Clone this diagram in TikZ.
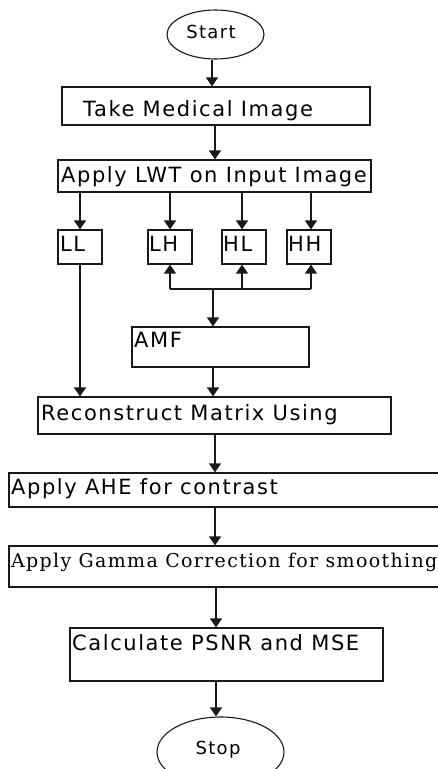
\documentclass[tikz,border=0pt]{standalone}
\usepackage{fontspec}
\usetikzlibrary{arrows.meta,shapes.geometric}
\newfontfamily\flowsans{DejaVu Sans}[LetterSpace=7.5]
\newfontfamily\flowserif{DejaVu Serif}[LetterSpace=7]
\definecolor{lineclr}{RGB}{25,25,25}
\tikzset{
  box/.style={draw=lineclr, line width=1.2pt, rectangle, inner sep=0pt},
  oval/.style={draw=lineclr, line width=1.1pt, ellipse, inner sep=0pt},
  txt/.style={inner sep=0pt, font=\flowsans\fontsize{21}{24}\selectfont, text=black},
  stxt/.style={inner sep=0pt, font=\flowserif\fontsize{19}{22}\selectfont, text=black},
  arr/.style={draw=lineclr, line width=1.4pt, -{Triangle[width=12pt,length=9pt]}},
  ln/.style={draw=lineclr, line width=1.4pt}
}
\begin{document}
\begin{tikzpicture}[x=1pt,y=-1pt]
\useasboundingbox (0,0) rectangle (437,769);
% shapes
\node[oval, minimum width=97pt, minimum height=49pt] (start) at (215.5,34.5) {};
\node[txt, anchor=base] (starttxt) at (211,38) {\fontsize{18}{20}\selectfont Start};
\node[box, minimum width=308pt, minimum height=38pt] (take) at (216,106) {};
\node[txt, anchor=base west] (taketxt) at (83,116) {Take Medical Image};
\node[box, minimum width=313pt, minimum height=32pt] (lwt) at (214.5,176) {};
\node[txt, anchor=base west] (lwttxt) at (61,182) {Apply LWT on Input Image};
\node[box, minimum width=44pt, minimum height=34pt] (ll) at (80,247) {};
\node[txt, anchor=base west] (lltxt) at (60,251) {LL};
\node[box, minimum width=44pt, minimum height=34pt] (lh) at (170,247) {};
\node[txt, anchor=base west] (lhtxt) at (149,251) {LH};
\node[box, minimum width=44pt, minimum height=34pt] (hl) at (244,247) {};
\node[txt, anchor=base west] (hltxt) at (223,251) {HL};
\node[box, minimum width=44pt, minimum height=34pt] (hh) at (309,247) {};
\node[txt, anchor=base west] (hhtxt) at (288,251) {HH};
\node[box, minimum width=177pt, minimum height=40pt] (amf) at (220.5,347) {};
\node[txt, anchor=base west] (amftxt) at (134,347) {AMF};
\node[box, minimum width=353pt, minimum height=37pt] (rec) at (214.5,415.5) {};
\node[txt, anchor=base west] (rectxt) at (41,420) {Reconstruct Matrix Using};
\node[box, minimum width=451pt, minimum height=34pt] (ahe) at (234.5,490) {};
\node[txt, anchor=base west] (ahetxt) at (11,494) {Apply AHE for contrast};
\node[box, minimum width=451pt, minimum height=41pt] (gam) at (234.5,566.5) {};
\node[stxt, anchor=base west] (gamtxt) at (11,567) {Apply Gamma Correction for smoothing};
\node[box, minimum width=313pt, minimum height=53pt] (calc) at (226.5,654.5) {};
\node[txt, anchor=base west] (calctxt) at (72,650) {Calculate PSNR and MSE};
\node[oval, minimum width=127pt, minimum height=70pt] (stop) at (220.5,752) {};
\node[txt, anchor=base] (stoptxt) at (218,754) {\fontsize{18}{20}\selectfont Stop};
% connectors
\draw[arr] (212,0 |- start.south) -- (212,0 |- take.north);
\draw[arr] (215,0 |- take.south) -- (215,0 |- lwt.north);
\draw[arr] (ll.north |- lwt.south) -- (ll.north);
\draw[arr] (lh.north |- lwt.south) -- (lh.north);
\draw[arr] (242,0 |- lwt.south) -- (242,0 |- hl.north);
\draw[arr] (311,0 |- lwt.south) -- (311,0 |- hh.north);
\coordinate (j) at (213,289);
\draw[ln] (j -| lh) -- (311,289);
\draw[arr] (j -| lh) -- (lh.south);
\draw[arr] (242,289) -- (242,0 |- hl.south);
\draw[arr] (311,289) -- (311,0 |- hh.south);
\draw[arr] (j) -- (j |- amf.north);
\draw[arr] (j |- amf.south) -- (j |- rec.north);
\draw[arr] (ll.south) -- (ll.south |- rec.north);
\draw[arr] (215,0 |- rec.south) -- (215,0 |- ahe.north);
\draw[arr] (215,0 |- ahe.south) -- (215,0 |- gam.north);
\draw[arr] (216,0 |- gam.south) -- (216,0 |- calc.north);
\draw[arr] (216,0 |- calc.south) -- (216,0 |- stop.north);
\end{tikzpicture}
\end{document}
